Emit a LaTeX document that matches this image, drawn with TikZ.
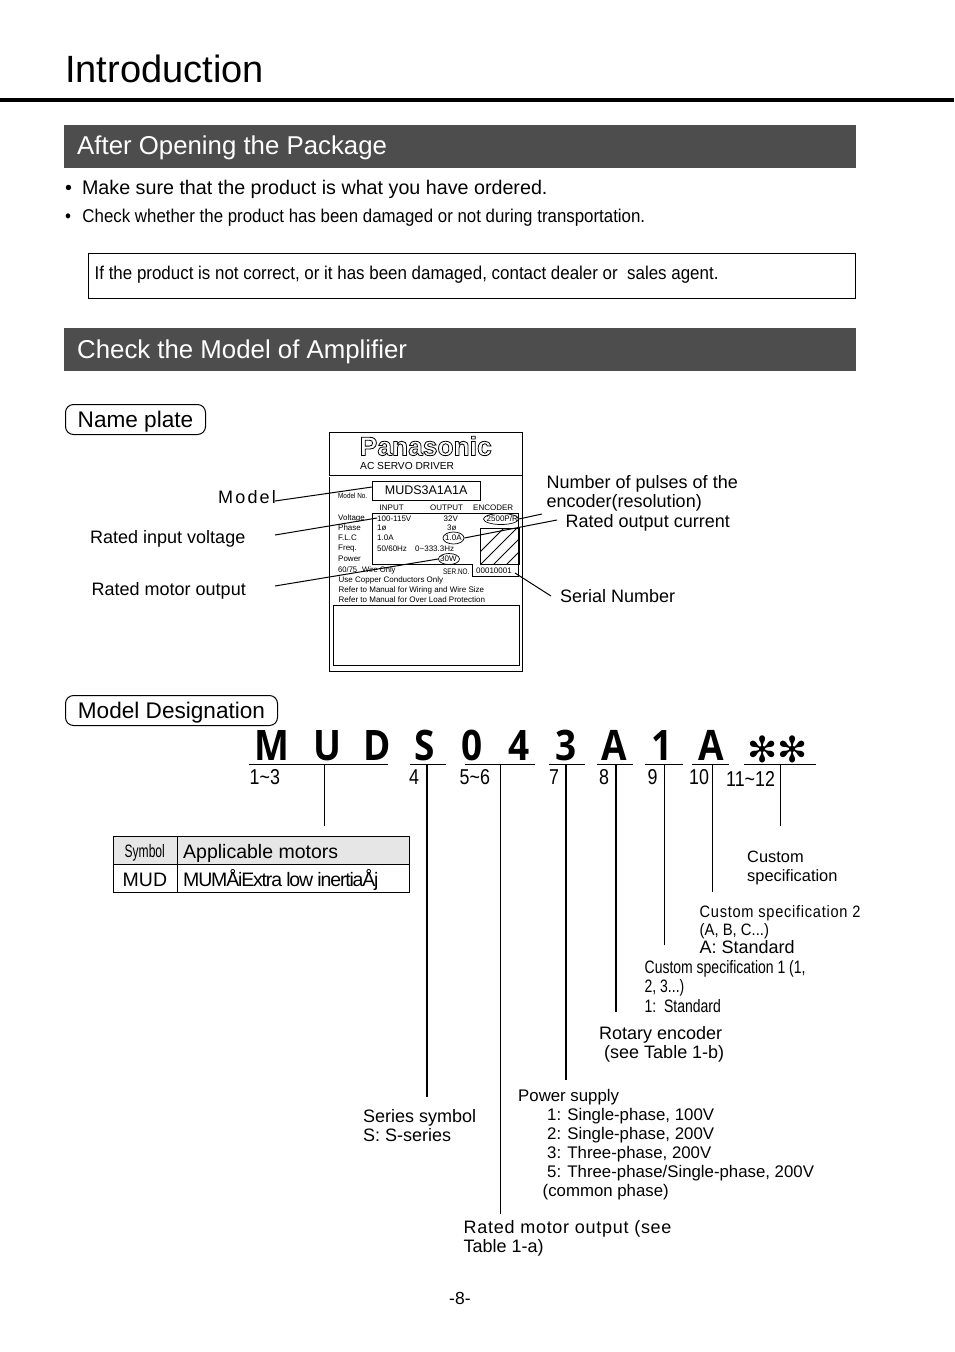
\documentclass[tikz,border=0pt]{standalone}
\usepackage{fontspec}
\setmainfont{Liberation Sans}
\newfontfamily\bigfont{Open Sans}
\newfontfamily\starfont{DejaVu Sans}
\usetikzlibrary{shapes.geometric}
\definecolor{barcol}{HTML}{4D4D4D}
\definecolor{headcol}{HTML}{E6E6E6}
\newcommand{\outlined}[1]{\special{pdf:code 0 0 0 RG 1 Tr 0.8 w}#1\special{pdf:code 0 Tr}}
\tikzset{
  txt/.style={anchor=west,inner sep=0pt,yshift=-2pt,font=\fontsize{#1}{19}\selectfont,align=left},
  txt/.default=18,
  bar/.style={draw=none,fill=barcol,minimum width=792pt,minimum height=43pt,anchor=north west,inner sep=0pt},
  bartxt/.style={anchor=west,inner sep=0pt,text=white,font=\fontsize{25.8}{26}\selectfont},
  pill/.style={draw,line width=1pt,rounded corners=8pt,minimum height=30pt,anchor=north west,inner sep=0pt,text height=16pt,text depth=0pt,font=\fontsize{22.6}{23}\selectfont},
  tiny/.style={anchor=west,inner sep=0pt,font=\fontsize{8}{8}\selectfont},
  bigch/.style={anchor=base,inner sep=0pt,xscale=.88,transform shape,font=\fontsize{42}{42}\bfseries\bigfont\selectfont},
  starch/.style={inner sep=0pt,font=\fontsize{36}{36}\starfont\selectfont},
  lead/.style={line width=1pt},
  pole/.style={line width=1pt},
  polethick/.style={line width=2pt},
  under/.style={line width=1pt},
  cellbox/.style={draw,line width=1.2pt,minimum height=27.5pt,anchor=north west,inner sep=0pt}
}
\begin{document}
\begin{tikzpicture}[x=1pt,y=-1pt]
\useasboundingbox[fill=white] (0,0) rectangle (954,1352);
% heading
\node[txt=38] (title) at (65,67) {Introduction};
\coordinate (ruleL) at (0,100);
\coordinate (ruleR) at (954,100);
\draw[line width=4pt] (ruleL) -- (ruleR);
% first section
\node[bar] (bar1) at (64,125) {};
\node[bartxt] (bar1txt) at (77,148) {After Opening the Package};
\node[txt=19.7] (bul1) at (65,187) {\textbullet\hspace{10pt}Make sure that the product is what you have ordered.};
\node[txt=18.5,xscale=.912,transform shape] (bul2) at (65,216) {\textbullet\hspace{12.5pt}Check whether the product has been damaged or not during transportation.};
\node[draw,minimum width=767pt,minimum height=45pt,anchor=north west,inner sep=0pt] (note) at (88,253) {};
\node[txt=18.5,xscale=.915,transform shape] (notetxt) at (94.5,273) {If the product is not correct, or it has been damaged, contact dealer or\ \ sales agent.};
% second section
\node[bar] (bar2) at (64,328) {};
\node[bartxt] (bar2txt) at (77,352) {Check the Model of Amplifier};
\node[pill,minimum width=140pt] (plate) at (65,404) {Name plate};
% name plate
\node[draw,line width=1pt,minimum width=193pt,minimum height=238.5pt,anchor=north west,inner sep=0pt] (outer) at (329,432) {};
\node[anchor=west,inner sep=0pt,font=\fontsize{26.4}{26}\bfseries\selectfont] (pana) at (359.5,446) {\outlined{Panasonic}};
\node[tiny,font=\fontsize{10.2}{10.2}\selectfont] (acs) at (360,466) {AC SERVO DRIVER};
\coordinate (dblL) at (329,476);
\coordinate (dblR) at (522,476);
\draw[line width=.8pt,double,double distance=1pt] (dblL) -- (dblR);
\node[tiny,font=\fontsize{7.5}{7.5}\selectfont,xscale=.85,transform shape] (modelno) at (338,496) {Model No.};
\node[draw,minimum width=108pt,minimum height=19pt,anchor=north west,inner sep=0pt,font=\fontsize{12.5}{12.5}\selectfont] (modelbox) at (372,480.5) {MUDS3A1A1A};
\node[tiny] (hinput) at (379.5,507.5) {INPUT};
\node[tiny] (houtput) at (430,507.5) {OUTPUT};
\node[tiny] (henc) at (473,507.5) {ENCODER};
\coordinate (fr1) at (372,513.5);
\coordinate (fr2) at (518.5,513.5);
\coordinate (fr3) at (518.5,576);
\coordinate (fr4) at (472,576);
\coordinate (fr5) at (472,564);
\coordinate (fr6) at (372,564);
\draw[line width=.8pt] (fr1) -- (fr2) -- (fr3) -- (fr4) -- (fr5) -- (fr6) -- cycle;
\node[draw,line width=.8pt,minimum width=38.5pt,minimum height=36pt,anchor=north west,inner sep=0pt] (hatch) at (480,528) {};
\begin{scope}
\clip (hatch.south west) rectangle (hatch.north east);
\foreach \hx in {468,481,494,507,520}
  \draw[line width=.8pt] (\hx,564) -- ++(36,-36);
\end{scope}
\node[tiny] (r1) at (338,518) {Voltage};
\node[tiny] (r2) at (338,528) {Phase};
\node[tiny] (r3) at (338,538) {F.L.C};
\node[tiny] (r4) at (338,549) {Freq.};
\node[tiny] (r5) at (338,559) {Power};
\node[tiny] (v1) at (377,518.5) {100-115V};
\node[tiny] (v2) at (377,528) {1ø};
\node[tiny] (v3) at (377,538) {1.0A};
\node[tiny] (v4) at (377,549) {50/60Hz};
\node[tiny] (o1) at (443.5,518.5) {32V};
\node[tiny] (o2) at (447,528) {3ø};
\node[tiny] (o3) at (445,538) {1.0A};
\node[tiny] (o4) at (415,549) {0\textasciitilde 333.3Hz};
\node[tiny] (o5) at (440,559) {30W};
\node[tiny] (enc) at (486.5,519) {2500P/R};
\node[draw,ellipse,minimum width=35pt,minimum height=11pt,inner sep=0pt,line width=.7pt] (encell) at (501,519) {};
\node[draw,ellipse,minimum width=21pt,minimum height=12pt,inner sep=0pt,line width=.7pt] (curell) at (453.5,538) {};
\node[draw,ellipse,minimum width=21pt,minimum height=11pt,inner sep=0pt,line width=.7pt] (powell) at (449,559) {};
\node[tiny,xscale=.95,transform shape] (r6) at (338,570.5) {60/75\hspace{3pt} Wire Only};
\node[tiny,xscale=.8,transform shape] (serl) at (443,572) {SER.NO.};
\node[tiny] (ser) at (476,570.5) {00010001};
\node[tiny] (c1) at (338.5,580.5) {Use Copper Conductors Only};
\node[tiny] (c2) at (338.5,590) {Refer to Manual for Wiring and Wire Size};
\node[tiny] (c3) at (338.5,600) {Refer to Manual for Over Load Protection};
\node[draw,line width=.8pt,minimum width=185.5pt,minimum height=60pt,anchor=north west,inner sep=0pt] (blank) at (333,605) {};
% labels round the plate
\node[txt=18] (lmodel) at (218,495) {\addfontfeature{LetterSpace=12}Model};
\node[txt=18] (linput) at (90,537) {Rated input voltage};
\node[txt=18] (lmotor) at (91.5,589) {Rated motor output};
\node[txt=18,anchor=north west] (lenc) at (546.5,473) {Number of pulses of the\\encoder(resolution)};
\node[txt=18] (lcur) at (565.5,521) {Rated output current};
\node[txt=18] (lser) at (560,594) {Serial Number};
\coordinate (a1) at (275,501);
\coordinate (a2) at (372,487);
\coordinate (b1) at (275,535);
\coordinate (b2) at (377,518);
\coordinate (c1a) at (275,586);
\draw[lead] (a1) -- (a2);
\draw[lead] (b1) -- (b2);
\draw[lead] (c1a) -- (powell.west);
\coordinate (d1) at (542,514);
\coordinate (e1) at (557,520);
\coordinate (f1) at (551,596);
\coordinate (f2) at (515,573);
\draw[lead] (d1) -- (encell.east);
\draw[lead] (e1) -- (curell.east);
\draw[lead] (f1) -- (f2);
% model designation
\node[pill,minimum width=212pt] (desig) at (65,695) {Model Designation};
\foreach \cx/\ch/\nm in {272/M/cha,327/U/chb,377/D/chc,425/S/chd,472/0/che,519/4/chf,566/3/chg,614/A/chh,662/1/chi,711/A/chj}
  \node[bigch] (\nm) at (\cx,760) {\ch};
\node[starch] (stara) at (763,749) {✻};
\node[starch] (starb) at (793,749) {✻};
\foreach \xa/\xb/\nm in {249/388/ua,410/446/ub,465/535/uc,549/585/ud,597/633/ue,645/683/uf,692/729/ug,744/816/uh} {
  \coordinate (\nm l) at (\xa,764.5);
  \coordinate (\nm r) at (\xb,764.5);
  \draw[under] (\nm l) -- (\nm r);
}
\foreach \xx/\lb/\nm in {249.5/1\textasciitilde 3/na,409/4/nb,459.5/5\textasciitilde 6/nc,549/7/nd,599/8/ne,647.5/9/nf,689/10/ng}
  \node[txt=21.5,xscale=.83,transform shape] (\nm) at (\xx,775) {\lb};
\node[txt=21.5,xscale=.83,transform shape] (nh) at (726,776.5) {11\textasciitilde 12};
\foreach \xx/\yy/\st/\nm in {324/826/pole/pa,427/1097/polethick/pb,500/1214/pole/pc,566/1080/polethick/pd,616/1012/polethick/pe,664/945/pole/pf,712/892/pole/pg,780/826/pole/ph} {
  \coordinate (\nm t) at (\xx,764.5);
  \coordinate (\nm b) at (\xx,\yy);
  \draw[\st] (\nm t) -- (\nm b);
}
% motor table
\node[cellbox,fill=headcol,minimum width=64pt] (th1) at (113,836) {};
\node[cellbox,fill=headcol,minimum width=231.5pt] (th2) at (177,836) {};
\node[cellbox,minimum height=28.5pt,minimum width=64pt] (tc1) at (113,863.5) {};
\node[cellbox,minimum height=28.5pt,minimum width=231.5pt] (tc2) at (177,863.5) {};
\node[txt=18,xscale=.67,transform shape] (tsym) at (124.5,851) {Symbol};
\node[txt=19.5] (tapp) at (183,851) {Applicable motors};
\node[txt=19.5] (tmud) at (122.5,878) {MUD};
\node[txt=19.5] (tmum) at (183,878) {\addfontfeature{LetterSpace=-6}MUMÅiExtra low inertiaÅj};
% legend texts
\node[txt=16.4,anchor=north west] (tcust) at (747,849) {Custom\\specification};
\node[txt=16.5,anchor=north west,xscale=.885,transform shape] (tspec2) at (699.5,903) {\addfontfeature{LetterSpace=5}Custom specification 2};
\node[txt=16.5,anchor=north west,xscale=.9,transform shape] (tabc) at (699.5,921) {(A, B, C...)};
\node[txt=18,anchor=north west] (tstd) at (699.5,938) {A: Standard};
\node[txt=18,anchor=north west,xscale=.777,transform shape] (tspec1) at (644.5,958) {Custom specification 1 (1,\\[.5pt]2, 3...)\\[.5pt]1:\ \ Standard};
\node[txt=18,anchor=north west] (trot) at (599,1024) {Rotary encoder\\\ (see Table 1-b)};
\node[txt=16.8,anchor=north west] (tpow) at (518,1087) {Power supply\\\hspace{29pt}1: Single-phase, 100V\\\hspace{29pt}2: Single-phase, 200V\\\hspace{29pt}3: Three-phase, 200V\\\hspace{29pt}5: Three-phase/Single-phase, 200V\\\hspace{24.5pt}(common phase)};
\node[txt=18,anchor=north west] (tser) at (363,1107) {Series symbol\\S: S-series};
\node[txt=18,anchor=north west] (tmot) at (463.5,1218) {\addfontfeature{LetterSpace=4}Rated motor output (see\\Table 1-a)};
\node[txt=17.5] (pageno) at (449,1296) {-8-};
\end{tikzpicture}
\end{document}
